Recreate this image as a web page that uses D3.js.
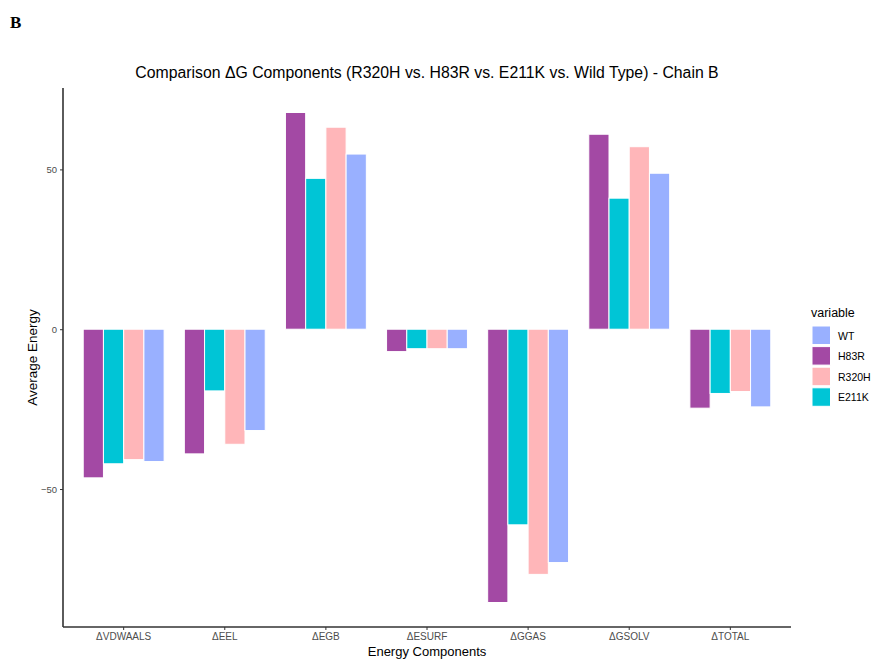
<!DOCTYPE html>
<html>
<head>
<meta charset="utf-8">
<script src="https://cdn.jsdelivr.net/npm/d3@7"></script>
<style>
  html, body { margin: 0; padding: 0; background: #fff; }
  svg { display: block; font-family: "Liberation Sans", Arial, sans-serif; }
</style>
</head>
<body>
<svg id="chart" width="877" height="660"></svg>
<script>
// Energy components (x categories)
const components = ["ΔVDWAALS", "ΔEEL", "ΔEGB", "ΔESURF", "ΔGGAS", "ΔGSOLV", "ΔTOTAL"];

// Series drawn left-to-right inside each group
const variants = ["H83R", "E211K", "R320H", "WT"];
// Legend order
const legendOrder = ["WT", "H83R", "R320H", "E211K"];

// Average energy per component, one array per variant
const h83r  = [-46.5, -39.0, 67.8, -7.0, -85.5, 61.0, -24.7];
const e211k = [-42.1, -19.3, 47.2, -6.1, -61.2, 41.0, -20.1];
const r320h = [-40.8, -36.0, 63.2, -6.1, -76.7, 57.1, -19.5];
const wt    = [-41.4, -31.7, 54.8, -6.1, -73.0, 48.8, -24.3];

const yTicks = [-50, 0, 50];

const colors = { H83R: "#A349A4", E211K: "#00C5D6", R320H: "#FFB6B9", WT: "#99B0FF" };
const seriesValues = { H83R: h83r, E211K: e211k, R320H: r320h, WT: wt };

const rows = [];
components.forEach((c, i) => {
  variants.forEach(v => rows.push({ component: c, variant: v, value: seriesValues[v][i] }));
});

const svg = d3.select("#chart");
const panel = { left: 63, right: 791, top: 88, bottom: 627 };

// Panel label
svg.append("text")
  .attr("x", 10).attr("y", 28)
  .attr("font-family", "'Liberation Serif', 'DejaVu Serif', serif")
  .attr("font-weight", "bold").attr("font-size", 17)
  .text("B");

// Scales
const x = d3.scaleBand().domain(components)
  .range([panel.left, panel.right]).paddingInner(0.2).paddingOuter(0.2);
const xInner = d3.scaleBand().domain(variants).range([0, x.bandwidth()]).padding(0);

const ext = d3.extent(rows, d => d.value);
const pad = (ext[1] - ext[0]) * 0.05;
const y = d3.scaleLinear().domain([ext[0] - pad, ext[1] + pad]).range([panel.bottom, panel.top]);

// Bars
svg.append("g").selectAll("rect").data(rows).join("rect")
  .attr("x", d => x(d.component) + xInner(d.variant))
  .attr("width", xInner.bandwidth())
  .attr("y", d => y(Math.max(0, d.value)))
  .attr("height", d => Math.abs(y(d.value) - y(0)))
  .attr("fill", d => colors[d.variant])
  .attr("stroke", "#fff").attr("stroke-width", 1);

// Y axis
const yAxis = svg.append("g").attr("transform", `translate(${panel.left},0)`)
  .call(d3.axisLeft(y).tickValues(yTicks).tickSize(3).tickPadding(3).tickFormat(d3.format("d")));
yAxis.select(".domain").attr("stroke", "#333").attr("stroke-width", 1.6)
  .attr("d", `M0,${panel.top}V${panel.bottom}`);
yAxis.selectAll(".tick line").attr("stroke", "#333").attr("stroke-width", 1);
yAxis.selectAll(".tick text").attr("fill", "#4D4D4D").attr("font-size", 9.5)
  .attr("font-family", "'Liberation Sans', Arial, sans-serif");

// X axis
const xAxis = svg.append("g").attr("transform", `translate(0,${panel.bottom})`)
  .call(d3.axisBottom(x).tickSize(3).tickPadding(3));
xAxis.select(".domain").attr("stroke", "#333").attr("stroke-width", 1.6)
  .attr("d", `M${panel.left},0H${panel.right}`);
xAxis.selectAll(".tick line").attr("stroke", "#333").attr("stroke-width", 1);
xAxis.selectAll(".tick text").attr("fill", "#4D4D4D").attr("font-size", 10)
  .attr("font-family", "'Liberation Sans', Arial, sans-serif");

// Title
const cx = (panel.left + panel.right) / 2;
svg.append("text").attr("x", cx).attr("y", 78).attr("text-anchor", "middle")
  .attr("font-size", 15.8).attr("fill", "#000")
  .text("Comparison ΔG Components (R320H vs. H83R vs. E211K vs. Wild Type) - Chain B");

// Axis titles
svg.append("text").attr("x", cx).attr("y", 656).attr("text-anchor", "middle")
  .attr("font-size", 13).text("Energy Components");
svg.append("text")
  .attr("transform", `translate(37,${(panel.top + panel.bottom) / 2}) rotate(-90)`)
  .attr("text-anchor", "middle").attr("font-size", 13.5).text("Average Energy");

// Legend
const lg = svg.append("g").attr("transform", "translate(812,0)");
lg.append("text").attr("x", -1).attr("y", 317).attr("font-size", 12.5).text("variable");
legendOrder.forEach((v, i) => {
  const top = 326 + i * 20.6;
  lg.append("rect").attr("x", 0).attr("y", top).attr("width", 18.5).attr("height", 18.5)
    .attr("fill", colors[v]).attr("stroke", "#fff").attr("stroke-width", 1);
  lg.append("text").attr("x", 26).attr("y", top + 13.5).attr("font-size", 10.5)
    .attr("fill", "#000").text(v);
});
</script>
</body>
</html>
